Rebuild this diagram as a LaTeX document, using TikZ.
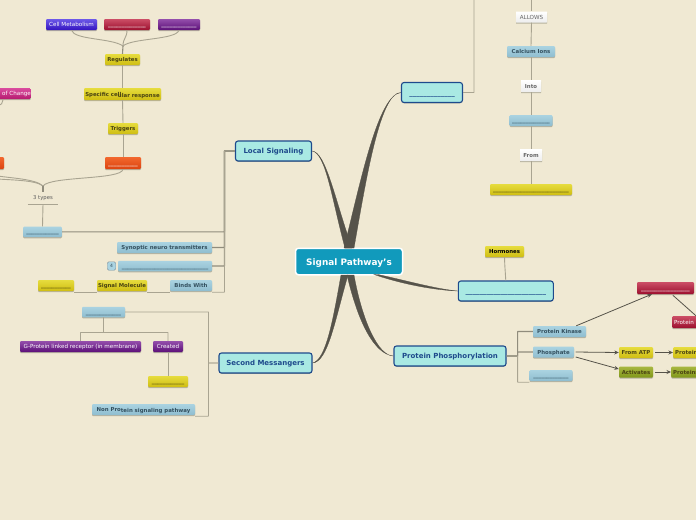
\documentclass[tikz,border=0pt]{standalone}
\usepackage{fontspec}
\setmainfont{DejaVu Sans}
\usetikzlibrary{arrows.meta,shadows}
\definecolor{bgc}{HTML}{F0E9D3}
\definecolor{linec}{HTML}{A9A491}
\definecolor{darkl}{HTML}{56534A}
\definecolor{mainb}{HTML}{1E4A8C}
\newcommand\blk[1]{\foreach \i in {1,...,#1}{\_}}
\tikzset{
  x=1pt,y=-1pt,
  base/.style={rounded corners=1.2pt,inner sep=0pt,font=\fontsize{5.4}{6}\selectfont\bfseries,text height=4.6pt,text depth=0.6pt,
    general shadow={shadow xshift=0pt,shadow yshift=-1.2pt,fill=linec!80!bgc}},
  med/.style={font=\fontsize{5.6}{6}\selectfont},
  sz/.style n args={2}{minimum width=#1pt,minimum height=#2pt},
  lefttext/.style={text width=36pt,align=left,anchor=west},
  sblue/.style={base,top color=sbt,bottom color=sbb,text=sbx},
  syel/.style={base,top color=yet,bottom color=yeb,text=yex},
  sred/.style={base,top color=ret,bottom color=reb,text=white},
  spur/.style={base,top color=put,bottom color=pub,text=white},
  sind/.style={base,top color=int,bottom color=inb,text=white},
  sora/.style={base,top color=ort,bottom color=orb,text=white},
  spin/.style={base,top color=pit,bottom color=pib,text=white},
  soli/.style={base,top color=olt,bottom color=olb,text=yex},
  swhi/.style={base,rounded corners=0.4pt,top color=white,bottom color=black!7,text=black!60,general shadow={shadow yshift=0pt,opacity=0}},
  mainn/.style={draw=mainb,line width=1.1pt,rounded corners=2.5pt,fill=mainc,text=mainb,inner sep=0pt,
    font=\fontsize{7}{8}\selectfont\bfseries,text height=6pt,text depth=0.5pt,general shadow={shadow xshift=0pt,shadow yshift=-0.8pt,fill=linec}},
  centern/.style={draw=white,line width=1.5pt,rounded corners=3pt,fill=centc,text=white,inner sep=0pt,font=\fontsize{8.9}{10}\selectfont\bfseries,text height=8pt,text depth=1pt},
  conn/.style={linec,line width=0.9pt,rounded corners=0.3pt},
  connd/.style={conn,line width=1.1pt,draw=linec!70!darkl},
  arr/.style={darkl,line width=0.8pt,-{Stealth[length=4.5pt,width=4pt]}},
  arrn/.style={darkl,line width=0.8pt},
  bigb/.style={fill=darkl,draw=darkl,line width=0.3pt}
}
\definecolor{sbt}{HTML}{AAD3E1}\definecolor{sbb}{HTML}{8FBDCF}\definecolor{sbx}{HTML}{33505F}
\definecolor{yet}{HTML}{E6DC3E}\definecolor{yeb}{HTML}{CFBD12}\definecolor{yex}{HTML}{4A4412}
\definecolor{ret}{HTML}{CC4E66}\definecolor{reb}{HTML}{9C0F2E}
\definecolor{put}{HTML}{944FAC}\definecolor{pub}{HTML}{5C0F78}
\definecolor{int}{HTML}{6C58E8}\definecolor{inb}{HTML}{3414C0}
\definecolor{ort}{HTML}{F2682E}\definecolor{orb}{HTML}{DC4410}
\definecolor{pit}{HTML}{DA4C9E}\definecolor{pib}{HTML}{B61A70}
\definecolor{olt}{HTML}{A8B840}\definecolor{olb}{HTML}{80961A}
\definecolor{mainc}{HTML}{A9E9E3}
\definecolor{centc}{HTML}{119ABC}
\begin{document}
\begin{tikzpicture}
\useasboundingbox (0,0) rectangle (696,520);
\fill[bgc] (0,0) rectangle (696,520);

% nodes --------------------------------------------------------
\node[centern,sz={107}{26.5}] (c) at (349,261.5) {Signal Pathway's};
\node[mainn,sz={76}{20}] (ls) at (273.5,151) {Local Signaling};
\node[mainn,sz={93}{20}] (sm) at (265.5,363) {Second Messangers};
\node[mainn,sz={112}{20}] (pp) at (450,356) {Protein Phosphorylation};
\node[mainn,sz={61}{20}] (mt) at (432,92.5) {\blk{13}};
\node[mainn,sz={95}{20}] (mr) at (505.8,291) {\blk{23}};

\node[sind,med,sz={51}{11}] (cm) at (71.5,24.5) {Cell Metabolism};
\node[sred,sz={46}{11}] (r1) at (127,24.5) {\blk{14}};
\node[spur,sz={42}{11}] (p1) at (179,24.5) {\blk{13}};
\node[syel,sz={35}{11}] (reg) at (122.5,59.5) {Regulates};
\node[syel,sz={77}{12}] (scr) at (122.5,94) {Specific cell\raisebox{-1pt}{\kern-3.5pt ular response}};
\node[syel,sz={30}{11}] (tr) at (123,128.5) {Triggers};
\node[sora,sz={36}{12}] (o1) at (123,163) {\blk{11}};
\node[spin,med,sz={41}{11}] (pk1) at (10,93.5) {\hspace{13pt}of Change};
\node[sora,sz={24}{12}] (o2) at (-8,163) {};
\node[font=\fontsize{5.3}{6}\selectfont,text=black!65,inner sep=0pt,sz={30}{12}] (t3) at (43,198) {3 types};
\node[sblue,sz={39}{10.5}] (b1) at (42.5,231.8) {\blk{12}};
\node[sblue,sz={95}{11}] (syn) at (164.5,247.5) {Synoptic neuro transmitters};
\node[sblue,sz={94}{10.5}] (b2) at (165,266) {\blk{32}};
\node[draw=sbx!60,fill=sbt,rounded corners=1.5pt,inner sep=0pt,sz={8.5}{8.5},font=\fontsize{4.5}{5}\selectfont,text=sbx] (n4) at (111.5,266) {4};
\node[sblue,sz={42}{11}] (bw) at (191,285.5) {Binds With};
\node[syel,sz={50}{11}] (sg) at (122,285.5) {Signal Molecule};
\node[syel,sz={36}{11}] (y1) at (56,285.5) {\blk{11}};
\node[sblue,sz={43}{10.5}] (b3) at (103.5,312) {\blk{13}};
\node[spur,med,sz={121}{11}] (gp) at (80.5,346.5) {G-Protein linked receptor (in membrane)};
\node[spur,med,sz={30}{11}] (cr) at (168,346.5) {Created};
\node[syel,sz={40}{11}] (y2) at (168,381.5) {\blk{12}};
\node[sblue,sz={103}{11}] (np) at (143.5,409.5) {Non Pro\raisebox{-1pt}{tein signaling pathway}};

\node[syel,sz={39}{11},text=black] (ho) at (504.5,251.5) {Hormones};
\node[swhi,med,sz={31}{11}] (al) at (531.5,17) {ALLOWS};
\node[sblue,sz={48}{11}] (ca) at (531,51.5) {Calcium Ions};
\node[swhi,sz={20}{12}] (in) at (531,86) {Into};
\node[sblue,sz={43}{11}] (b4) at (531,120.5) {\blk{14}};
\node[swhi,sz={22}{12}] (fr) at (531,155) {From};
\node[syel,sz={82}{11}] (y3) at (531,189.5) {\blk{28}};

\node[sblue,sz={53}{11}] (ki) at (559.5,331.5) {Protein Kinase};
\node[sblue,sz={41}{11}] (ph) at (553.5,352) {Phosphate};
\node[sblue,sz={43}{11}] (b5) at (551,375.5) {\blk{13}};
\node[syel,sz={34}{11}] (fa) at (636,352.5) {From ATP};
\node[soli,sz={34}{11}] (ac) at (636,372) {Activates};
\node[syel,lefttext,sz={40}{11}] (pr1) at (673,352.5) {Protein};
\node[soli,lefttext,sz={40}{11}] (pr2) at (671,372) {Proteins};
\node[sred,sz={57}{12}] (r2) at (665.5,288) {\blk{18}};
\node[sred,med,lefttext,sz={40}{12}] (r3) at (672,322) {Protein};

% connectors ---------------------------------------------------
\coordinate (topl) at (474,0);
\coordinate (topm) at (531.5,0);
\coordinate (j1) at (123,46);
\coordinate (j2) at (43,186);

% tapered main branches
\fill[bigb] (ls.east) .. controls (326,152) and (335,200) .. (352,248) -- (345,248) .. controls (332,200) and (326,153) .. (ls.east) -- cycle;
\fill[bigb] (mt.west) .. controls (380,92) and (366,180) .. (354,248) -- (344,248) .. controls (361,180) and (378,95) .. (mt.west) -- cycle;
\fill[bigb] (sm.east) .. controls (328,362) and (335,320) .. (348,275) -- (341,275) .. controls (333,320) and (326,360) .. (sm.east) -- cycle;
\fill[bigb] (pp.west) .. controls (378,356) and (362,320) .. (354,275) -- (347,275) .. controls (358,322) and (374,354) .. (pp.west) -- cycle;
\fill[bigb] (mr.west) .. controls (435,290) and (405,285) .. (374,274.5) -- (378,274.5) .. controls (408,281) and (436,289) .. (mr.west) -- cycle;

\draw[connd] (ls.west) -- ++(-10.5,0) |- (b1.east);
\draw[connd] (ls.west) -- ++(-10.5,0) |- (syn.east);
\draw[connd] (ls.west) -- ++(-10.5,0) |- (b2.east);
\draw[conn] (ls.west) -- ++(-10.5,0) |- ([yshift=-1pt]bw.south east);
\draw[conn] ([yshift=-1pt]bw.south west) -- ([yshift=-1pt]sg.south east);
\draw[conn] ([yshift=-1pt]sg.south west) -- ([yshift=-1pt]y1.south east);

\draw[conn] (sm.west) -- ++(-10,0) |- (b3.east);
\draw[conn] (sm.west) -- ++(-10,0) |- ([yshift=-1pt]np.south east);
\draw[conn] (b3.south) -- ++(0,15) -| (gp.north);
\draw[conn] (b3.south) -- ++(0,15) -| (cr.north);
\draw[conn] (cr.south) -- (y2.north);

\draw[conn] (mt.east) -| (topl);
\draw[conn] (topm) -- (al.north);
\draw[conn] (al.south) -- (ca.north);
\draw[conn] (ca.south) -- (in.north);
\draw[conn] (in.south) -- (b4.north);
\draw[conn] (b4.south) -- (fr.north);
\draw[conn] (fr.south) -- (y3.north);
\draw[conn] (ho.south) -- ++(0.3,8) -- (mr.north);

\draw[connd] (pp.east) -- ++(11,0) |- (ki.west);
\draw[connd] (pp.east) -- ++(11,0) |- (ph.west);
\draw[conn] (pp.east) -- ++(11,0) |- ([yshift=-1pt]b5.south west);

\draw[conn] (cm.south) .. controls (74,40) and (112,38) .. (j1);
\draw[conn] (r1.south) .. controls (127,38) and (123,38) .. (j1);
\draw[conn] (p1.south) .. controls (176,40) and (132,38) .. (j1);
\draw[connd] (j1) -- (reg.north);
\draw[conn] (reg.south) -- (scr.north);
\draw[conn] (scr.south) -- (tr.north);
\draw[conn] (tr.south) -- (o1.north);
\draw[conn] (o1.south) .. controls (122,180) and (50,176) .. (j2);
\draw[conn] (-2,176) .. controls (10,178) and (36,179) .. (j2);
\draw[conn] (-2,179) .. controls (10,180) and (36,180) .. (j2);
\draw[connd] (j2) -- (t3.north);
\draw[conn] (t3.south west) -- (t3.south east);
\draw[conn] (t3.south) -- (b1.north);
\draw[conn] (3,100) .. controls (3,103) and (1,105) .. (-2,106);

\draw[arr] ([xshift=-10pt]ki.north east) -- ([xshift=15pt]r2.south west);
\draw[arr] ([xshift=1.5pt]ph.east) -- (fa.west);
\draw[arr] ([xshift=1.5pt,yshift=-5pt]ph.east) -- ([yshift=3pt]ac.west);
\draw[arr] ([xshift=2pt]fa.east) -- (pr1.west);
\draw[arr] ([xshift=1.5pt]ac.east) -- (pr2.west);
\draw[arrn] ([xshift=36pt,yshift=-1pt]r2.south west) -- ([xshift=24pt]r3.north west);
\end{tikzpicture}
\end{document}
